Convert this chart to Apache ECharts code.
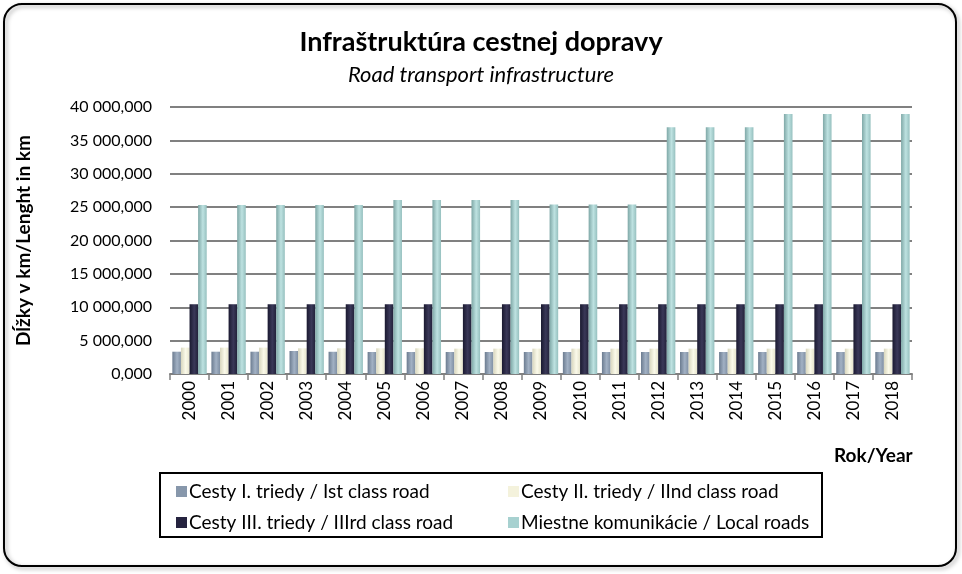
<!DOCTYPE html>
<html><head><meta charset="utf-8">
<script src="https://cdn.jsdelivr.net/npm/echarts@6/dist/echarts.min.js"></script>
<style>html,body{margin:0;padding:0;background:#fff}#c{width:962px;height:574px}</style>
</head><body><div id="c"></div>
<script>
const years = ['2000','2001','2002','2003','2004','2005','2006','2007','2008','2009','2010','2011','2012','2013','2014','2015','2016','2017','2018'];
const classI   = [3340,3340,3340,3450,3330,3300,3300,3300,3300,3300,3300,3300,3300,3300,3300,3300,3300,3300,3300];
const classII  = [3950,3950,3950,3850,3850,3850,3850,3800,3800,3800,3800,3800,3800,3800,3800,3800,3800,3800,3800];
const classIII = [10450,10450,10450,10450,10450,10450,10450,10450,10450,10450,10450,10450,10450,10450,10450,10450,10450,10450,10450];
const local    = [25300,25300,25300,25300,25300,26050,26050,26050,26050,25400,25400,25400,36950,36950,36950,38950,38950,38950,38950];
const names = ['Cesty I. triedy / Ist class road','Cesty II. triedy / IInd class road','Cesty III. triedy / IIIrd class road','Miestne komunikácie / Local roads'];
const baseColors = ['#8797AB','#F4F2DC','#25233F','#A7D1D0'];
const grads = [
  ['#6C7C90','#A2B1C4','#7F8FA3'],
  ['#D8D6BE','#FBFAEA','#E6E4CC'],
  ['#1A1930','#3A3858','#22213A'],
  ['#7FA8A7','#BEE2E1','#96C0BF']
];
function grad(i){return new echarts.graphic.LinearGradient(0,0,1,0,[{offset:0,color:grads[i][0]},{offset:0.55,color:grads[i][1]},{offset:1,color:grads[i][2]}]);}
const font = 'Lato, "Open Sans", sans-serif';
function fmt(v){return String(v).replace(/\B(?=(\d{3})+(?!\d))/g,' ')+',000';}
const datasets=[classI,classII,classIII,local];
function legItem(i){return {name:names[i],itemStyle:{color:baseColors[i]}};}
const chart = echarts.init(document.getElementById('c'));
chart.setOption({
  backgroundColor:'#fff',
  animation:false,
  title:{text:'Infraštruktúra cestnej dopravy',subtext:'Road transport infrastructure',left:'center',top:24,itemGap:8,
    textStyle:{fontFamily:font,fontSize:27,fontWeight:'bold',color:'#000'},
    subtextStyle:{fontFamily:font,fontSize:22,fontStyle:'italic',color:'#000'}},
  grid:{left:170,right:50,top:107,bottom:200},
  xAxis:{type:'category',data:years,
    axisLine:{lineStyle:{color:'#808080',width:2}},
    axisTick:{show:true,length:6,lineStyle:{color:'#808080',width:1.5}},
    axisLabel:{rotate:90,fontFamily:font,fontSize:17,color:'#000',margin:7},
    name:'Rok/Year',nameLocation:'end',nameGap:0,
    nameTextStyle:{fontFamily:font,fontSize:19,fontWeight:'bold',color:'#000',padding:[72,0,0,-78],verticalAlign:'top'}},
  yAxis:{type:'value',min:0,max:40000,interval:5000,
    axisLine:{show:false},axisTick:{show:false},
    splitLine:{lineStyle:{color:'#808080',width:2}},
    axisLabel:{formatter:fmt,fontFamily:font,fontSize:16,color:'#000',margin:18},
    name:'Dĺžky v km/Lenght in km',nameLocation:'middle',nameGap:137,
    nameTextStyle:{fontFamily:font,fontSize:19,fontWeight:'bold',color:'#000'}},
  legend:[
    {orient:'vertical',left:171,top:477,itemGap:12,itemWidth:11,itemHeight:11,icon:'rect',
     data:[legItem(0),legItem(2)],textStyle:{fontFamily:font,fontSize:19,color:'#000',padding:[0,0,0,-3]}},
    {orient:'vertical',left:503,top:477,itemGap:12,itemWidth:11,itemHeight:11,icon:'rect',
     data:[legItem(1),legItem(3)],textStyle:{fontFamily:font,fontSize:19,color:'#000',padding:[0,0,0,-3]}}
  ],
  series:datasets.map((d,i)=>({name:names[i],type:'bar',data:d,barGap:'0%',barCategoryGap:'12%',
    itemStyle:{color:grad(i)}})),
  graphic:[
    {type:'rect',shape:{x:4,y:4,width:952,height:562,r:18},style:{fill:'none',stroke:'#000',lineWidth:2,shadowBlur:4,shadowOffsetX:2,shadowOffsetY:2,shadowColor:'rgba(0,0,0,0.35)'},z:-1},
    {type:'rect',shape:{x:160,y:473,width:662,height:64},style:{fill:'none',stroke:'#000',lineWidth:2},z:10}
  ]
});
</script></body></html>
